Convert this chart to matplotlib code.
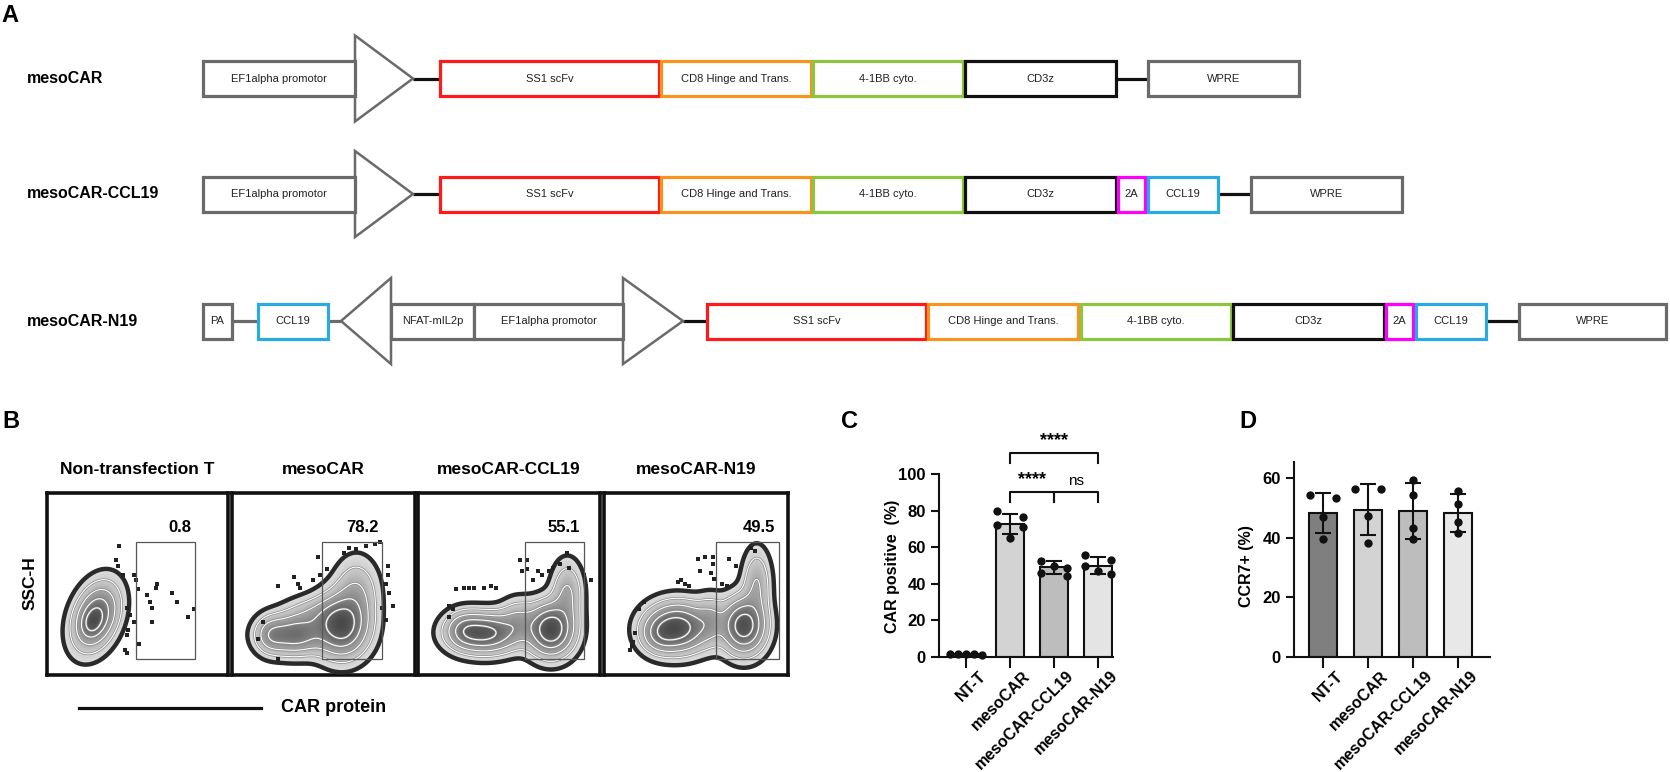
import numpy as np
import matplotlib
matplotlib.use("Agg")
import matplotlib.pyplot as plt
from matplotlib.patches import Rectangle, Polygon
from matplotlib.colors import LinearSegmentedColormap
from matplotlib.transforms import ScaledTranslation

plt.rcParams['font.family'] = ['Liberation Sans', 'DejaVu Sans']

# ======================= DATA =======================
# Panel A: constructs and their elements (kind, label, colour key)
construct_names = ["mesoCAR", "mesoCAR-CCL19", "mesoCAR-N19"]
parts_mesoCAR = [("box", "EF1alpha promotor", "grey"), ("tri_r", "", "grey"), ("link", "", "black"),
                 ("box", "SS1 scFv", "red"), ("box", "CD8 Hinge and Trans.", "orange"),
                 ("box", "4-1BB cyto.", "green"), ("box", "CD3z", "black"), ("link", "", "black"),
                 ("box", "WPRE", "grey")]
parts_CCL19 = [("box", "EF1alpha promotor", "grey"), ("tri_r", "", "grey"), ("link", "", "black"),
               ("box", "SS1 scFv", "red"), ("box", "CD8 Hinge and Trans.", "orange"),
               ("box", "4-1BB cyto.", "green"), ("box", "CD3z", "black"), ("box", "2A", "magenta"),
               ("box", "CCL19", "blue"), ("link", "", "black"), ("box", "WPRE", "grey")]
parts_N19 = [("box", "PA", "grey"), ("link", "", "grey"), ("box", "CCL19", "blue"), ("link", "", "grey"),
             ("tri_l", "", "grey"), ("box", "NFAT-mIL2p", "grey"), ("box", "EF1alpha promotor", "grey"),
             ("tri_r", "", "grey"), ("link", "", "black"), ("box", "SS1 scFv", "red"),
             ("box", "CD8 Hinge and Trans.", "orange"), ("box", "4-1BB cyto.", "green"),
             ("box", "CD3z", "black"), ("box", "2A", "magenta"), ("box", "CCL19", "blue"),
             ("link", "", "black"), ("box", "WPRE", "grey")]

# Panel B: flow plots
flow_titles = ["Non-transfection T", "mesoCAR", "mesoCAR-CCL19", "mesoCAR-N19"]
flow_gate_pct = ["0.8", "78.2", "55.1", "49.5"]
# density components: (cx, cy, sx, sy, angle, weight)
flow_comp_NT = [(0.27, 0.32, 0.11, 0.068, 70, 1.0), (0.25, 0.29, 0.05, 0.035, 70, 0.35)]
flow_comp_meso = [(0.60, 0.27, 0.085, 0.10, 0, 1.0), (0.34, 0.22, 0.10, 0.065, 0, 0.70),
                  (0.21, 0.22, 0.05, 0.06, 0, 0.30), (0.68, 0.45, 0.07, 0.11, 0, 0.30),
                  (0.45, 0.33, 0.10, 0.06, 0, 0.22)]
flow_comp_CCL19 = [(0.37, 0.23, 0.11, 0.065, 0, 0.85), (0.73, 0.25, 0.075, 0.085, 0, 1.0),
                   (0.82, 0.45, 0.05, 0.10, 0, 0.30), (0.25, 0.25, 0.06, 0.06, 0, 0.30),
                   (0.55, 0.30, 0.06, 0.07, 0, 0.25)]
flow_comp_N19 = [(0.40, 0.26, 0.10, 0.08, 0, 1.0), (0.76, 0.27, 0.07, 0.09, 0, 1.0),
                 (0.83, 0.50, 0.045, 0.11, 0, 0.30), (0.30, 0.22, 0.06, 0.06, 0, 0.30),
                 (0.58, 0.30, 0.05, 0.08, 0, 0.25)]
flow_out_x_NT = [0.40, 0.38, 0.39, 0.48, 0.49, 0.50, 0.61, 0.60, 0.55, 0.57, 0.69, 0.72, 0.81, 0.78,
                 0.58, 0.48, 0.51, 0.44, 0.43, 0.45, 0.46, 0.44, 0.42, 0.44, 0.58]
flow_out_y_NT = [0.71, 0.63, 0.60, 0.55, 0.52, 0.47, 0.50, 0.48, 0.44, 0.40, 0.45, 0.40, 0.36, 0.32,
                 0.37, 0.29, 0.17, 0.12, 0.14, 0.25, 0.33, 0.37, 0.55, 0.22, 0.29]
flow_out_x_meso = [0.14, 0.17, 0.25, 0.34, 0.36, 0.37, 0.48, 0.47, 0.61, 0.64, 0.68, 0.73, 0.78, 0.81,
                   0.85, 0.84, 0.86, 0.88, 0.82, 0.84, 0.85, 0.25, 0.44, 0.52]
flow_out_y_meso = [0.20, 0.29, 0.49, 0.54, 0.50, 0.48, 0.55, 0.65, 0.67, 0.70, 0.69, 0.71, 0.72, 0.73,
                   0.55, 0.50, 0.45, 0.38, 0.37, 0.30, 0.60, 0.09, 0.52, 0.58]
flow_out_x_CCL19 = [0.21, 0.25, 0.28, 0.31, 0.36, 0.40, 0.43, 0.56, 0.57, 0.60, 0.63, 0.66, 0.72,
                    0.74, 0.78, 0.82, 0.83, 0.91, 0.95, 0.19, 0.17, 0.17, 0.60, 0.68]
flow_out_y_CCL19 = [0.47, 0.48, 0.48, 0.48, 0.48, 0.49, 0.48, 0.63, 0.57, 0.58, 0.52, 0.57, 0.57,
                    0.59, 0.61, 0.67, 0.59, 0.55, 0.52, 0.36, 0.38, 0.32, 0.63, 0.55]
flow_out_x_N19 = [0.19, 0.15, 0.14, 0.16, 0.40, 0.42, 0.44, 0.46, 0.51, 0.52, 0.55, 0.59, 0.59, 0.58,
                  0.60, 0.64, 0.67, 0.68, 0.72, 0.80, 0.82, 0.17, 0.22]
flow_out_y_N19 = [0.36, 0.16, 0.14, 0.18, 0.51, 0.52, 0.50, 0.49, 0.64, 0.57, 0.65, 0.65, 0.61, 0.56,
                  0.53, 0.50, 0.49, 0.64, 0.60, 0.70, 0.68, 0.23, 0.40]

# Panel C
groups = ["NT-T", "mesoCAR", "mesoCAR-CCL19", "mesoCAR-N19"]
C_mean = [1.5, 72.5, 49.0, 50.0]
C_sd = [0.4, 5.5, 3.5, 4.5]
C_points = [[1.2, 1.5, 1.8, 1.4, 1.6],
            [80.0, 76.5, 72.0, 71.0, 65.0],
            [52.5, 50.0, 48.5, 46.0, 44.5],
            [55.5, 53.0, 50.0, 47.0, 45.5]]
C_sig_labels = ["****", "ns", "****"]
# Panel D
D_mean = [48.3, 49.4, 49.0, 48.3]
D_sd = [6.7, 8.6, 9.3, 6.5]
D_points = [[53.3, 54.2, 47.0, 39.5],
            [56.2, 56.3, 47.3, 38.3],
            [59.5, 54.2, 43.2, 39.5],
            [55.6, 51.4, 45.2, 41.5]]

# ======================= LAYOUT / STYLE =======================
W, H, DPI = 1670, 772, 100
COL = {"grey": "#6a6a6a", "red": "#ff1a1a", "orange": "#f7931e", "green": "#8cc63f",
       "black": "#111111", "magenta": "#ff00ff", "blue": "#29abe2"}
A_extents = {
    "mesoCAR": [(203, 355), (355, 413), (413, 440), (440, 659), (661, 811), (813, 963),
                (965, 1116), (1116, 1148), (1148, 1299)],
    "mesoCAR-CCL19": [(203, 355), (355, 413), (413, 440), (440, 659), (661, 811), (813, 963),
                      (965, 1116), (1118, 1145), (1148, 1218), (1218, 1251), (1251, 1402)],
    "mesoCAR-N19": [(203, 232), (232, 258), (258, 328), (328, 341), (341, 391), (391, 474),
                    (474, 623), (623, 683), (683, 707), (707, 926), (928, 1078), (1081, 1231),
                    (1233, 1384), (1386, 1413), (1416, 1486), (1486, 1519), (1519, 1666)],
}
A_rows = {"mesoCAR": parts_mesoCAR, "mesoCAR-CCL19": parts_CCL19, "mesoCAR-N19": parts_N19}
row_y = [78.5, 194, 321]
HALF_BOX, HALF_TRI = 17.5, 43

fig = plt.figure(figsize=(W / DPI, H / DPI), dpi=DPI)
bg = fig.add_axes([0, 0, 1, 1], zorder=0)
bg.set_xlim(0, W)
bg.set_ylim(H, 0)
bg.axis('off')


def px_axes(x0, y0, x1, y1, z=1):
    return fig.add_axes([x0 / W, 1 - y1 / H, (x1 - x0) / W, (y1 - y0) / H], zorder=z)


# ---- panel letters
for lab, x, y in [("A", 10, 16), ("B", 11, 422), ("C", 850, 422), ("D", 1248, 422)]:
    bg.text(x, y, lab, fontsize=17, fontweight='bold', ha='center', va='center')

# ---- Panel A
for name, y in zip(construct_names, row_y):
    bg.text(27, y, name, fontsize=11.5, fontweight='bold', ha='left', va='center')
    for (kind, label, ck), (x0, x1) in zip(A_rows[name], A_extents[name]):
        c = COL[ck]
        if kind == "box":
            bg.add_patch(Rectangle((x0, y - HALF_BOX), x1 - x0, 2 * HALF_BOX, facecolor='white',
                                   edgecolor=c, lw=2.3, zorder=3))
            bg.text((x0 + x1) / 2, y, label, fontsize=8, ha='center', va='center', color='#222222', zorder=4)
        elif kind == "tri_r":
            bg.add_patch(Polygon([(x0, y - HALF_TRI), (x0, y + HALF_TRI), (x1, y)], closed=True,
                                 facecolor='white', edgecolor=c, lw=1.8, zorder=2))
        elif kind == "tri_l":
            bg.add_patch(Polygon([(x1, y - HALF_TRI), (x1, y + HALF_TRI), (x0, y)], closed=True,
                                 facecolor='white', edgecolor=c, lw=1.8, zorder=2))
        elif kind == "link":
            bg.plot([x0, x1], [y, y], color=c, lw=2.3, zorder=1, solid_capstyle='butt')

# ---- Panel B
flow_boxes = [(47, 228), (232, 415), (418, 600), (604, 788)]
FLOW_TOP, FLOW_BOT = 493, 675
gates = [(0.49, 0.82), (0.49, 0.82), (0.59, 0.91), (0.61, 0.95)]
GATE_Y = (0.09, 0.73)
comps_all = [flow_comp_NT, flow_comp_meso, flow_comp_CCL19, flow_comp_N19]
outs_all = [(flow_out_x_NT, flow_out_y_NT), (flow_out_x_meso, flow_out_y_meso),
            (flow_out_x_CCL19, flow_out_y_CCL19), (flow_out_x_N19, flow_out_y_N19)]
grid = np.linspace(0, 1, 400)
GX, GY = np.meshgrid(grid, grid)
shade = LinearSegmentedColormap.from_list("shade", ["#dedede", "#c2c2c2", "#8e8e8e", "#4a4a4a"])


def density(comps):
    D = np.zeros_like(GX)
    for cx, cy, sx, sy, ang, w in comps:
        a = np.deg2rad(ang)
        u = (GX - cx) * np.cos(a) + (GY - cy) * np.sin(a)
        v = -(GX - cx) * np.sin(a) + (GY - cy) * np.cos(a)
        D += w * np.exp(-0.5 * ((u / sx) ** 2 + (v / sy) ** 2))
    return D / D.max()


T0 = 0.035
for i, ((x0, x1), title) in enumerate(zip(flow_boxes, flow_titles)):
    ax = px_axes(x0, FLOW_TOP, x1, FLOW_BOT, z=2)
    ax.set_xlim(0, 1)
    ax.set_ylim(0, 1)
    ax.set_xticks([])
    ax.set_yticks([])
    for s in ax.spines.values():
        s.set_linewidth(2.6)
        s.set_color('#111111')
    D = density(comps_all[i])
    lvl = np.clip((np.log(np.maximum(D, 1e-9)) - np.log(T0)) / (-np.log(T0)), 0, 1)
    rgba = shade(lvl ** 1.5)
    rgba[D < T0, 3] = 0
    ax.imshow(rgba, extent=[0, 1, 0, 1], origin='lower', interpolation='bilinear', aspect='auto', zorder=1)
    for lv in [0.12, 0.28, 0.5, 0.75]:
        ax.contour(GX, GY, D, levels=[lv], colors='#8a8a8a', linewidths=1.8, zorder=2)
        ax.contour(GX, GY, D, levels=[lv], colors='white', linewidths=0.8, zorder=3)
    ax.contour(GX, GY, D, levels=[T0], colors='#2a2a2a', linewidths=3.2, zorder=4)
    ox, oy = outs_all[i]
    ax.scatter(ox, oy, s=5, marker='s', color='#222222', lw=0, zorder=5)
    g0, g1 = gates[i]
    ax.add_patch(Rectangle((g0, GATE_Y[0]), g1 - g0, GATE_Y[1] - GATE_Y[0], fill=False,
                           edgecolor='#555555', lw=0.9, zorder=6))
    ax.text(g1 - 0.02, 0.81, flow_gate_pct[i], fontsize=12, fontweight='bold', ha='right', va='center')
    bg.text((x0 + x1) / 2, 470, title, fontsize=12.5, fontweight='bold', ha='center', va='center')

bg.text(30, 583, "SSC-H", fontsize=12.5, fontweight='bold', rotation=90, ha='center', va='center')
bg.plot([79, 261], [708, 708], color='#111111', lw=2.3)
bg.text(281, 708, "CAR protein", fontsize=13, fontweight='bold', ha='left', va='center')


# ---- Panels C & D
def swarm_offsets(vals, thresh, px_per_x):
    order = np.argsort(vals)[::-1]
    offs = np.zeros(len(vals))
    clusters = []
    for idx in order:
        if clusters and abs(vals[clusters[-1][0]] - vals[idx]) <= thresh:
            clusters[-1].append(idx)
        else:
            clusters.append([idx])
    for cl in clusters:
        n = len(cl)
        if n == 1:
            o = [0.0]
        elif n <= 3:
            o = np.linspace(-13, 13, n)
        else:
            o = np.linspace(-16, 16, n)
        for k, idx in enumerate(cl):
            offs[idx] = o[k] / px_per_x
    return offs


def bar_panel(ax, means, sds, pts, colors, ylim, yticks, px_per_x, px_per_y):
    x = np.arange(len(groups))
    ax.bar(x, means, width=0.62, color=colors, edgecolor='#111111', lw=1.5, zorder=2)
    ax.errorbar(x, means, yerr=sds, fmt='none', ecolor='#111111', elinewidth=1.5, capsize=6,
                capthick=1.5, zorder=3)
    for xi, p in zip(x, pts):
        p = np.asarray(p)
        offs = swarm_offsets(p, 10 / px_per_y, px_per_x)
        ax.scatter(xi + offs, p, s=36, color='#111111', zorder=4, lw=0, clip_on=False)
    ax.set_ylim(*ylim)
    ax.set_yticks(yticks)
    ax.set_xticks(x)
    ax.set_xticklabels(groups, rotation=45, ha='right', va='top', rotation_mode='anchor')
    for s in ['top', 'right']:
        ax.spines[s].set_visible(False)
    for s in ['left', 'bottom']:
        ax.spines[s].set_linewidth(1.5)
        ax.spines[s].set_color('#111111')
    ax.tick_params(axis='both', width=1.5, length=6, color='#111111', labelsize=12)
    ax.tick_params(axis='x', length=8, pad=3, labelsize=11.5)
    off = ScaledTranslation(12 / DPI, 4 / DPI, fig.dpi_scale_trans)
    for t in ax.get_xticklabels():
        t.set_transform(t.get_transform() + off)
    for t in ax.get_xticklabels() + ax.get_yticklabels():
        t.set_fontweight('bold')
    ax.patch.set_alpha(0)


axC = px_axes(939, 474, 1113, 657, z=3)
axC.set_xlim(-0.614, 3.34)
bar_panel(axC, C_mean, C_sd, C_points, ['#7f7f7f', '#d3d3d3', '#bdbdbd', '#e4e4e4'],
          (0, 100), [0, 20, 40, 60, 80, 100], 44, 1.83)
bg.text(892, 566, "CAR positive  (%)", fontsize=11.5, fontweight='bold', rotation=90, ha='center', va='center')
# significance brackets
br = dict(color='#111111', lw=1.5, clip_on=False)
axC.plot([1, 1, 2, 2], [84.7, 90.2, 90.2, 84.7], **br)
axC.plot([2, 2, 3, 3], [84.7, 90.2, 90.2, 84.7], **br)
axC.plot([1, 1, 3, 3], [106, 111.5, 111.5, 106], **br)
axC.text(1.5, 92.5, C_sig_labels[0], fontsize=13, fontweight='bold', ha='center', va='bottom')
axC.text(2.5, 92.5, C_sig_labels[1], fontsize=11, ha='center', va='bottom')
axC.text(2.0, 113.5, C_sig_labels[2], fontsize=13, fontweight='bold', ha='center', va='bottom')

axD = px_axes(1294, 462, 1490, 657, z=3)
axD.set_xlim(-0.644, 3.71)
bar_panel(axD, D_mean, D_sd, D_points, ['#7f7f7f', '#d3d3d3', '#bdbdbd', '#e8e8e8'],
          (0, 65.4), [0, 20, 40, 60], 45, 2.983)
bg.text(1246, 566, "CCR7+ (%)", fontsize=11.5, fontweight='bold', rotation=90, ha='center', va='center')

fig.savefig("out.png", dpi=DPI)
